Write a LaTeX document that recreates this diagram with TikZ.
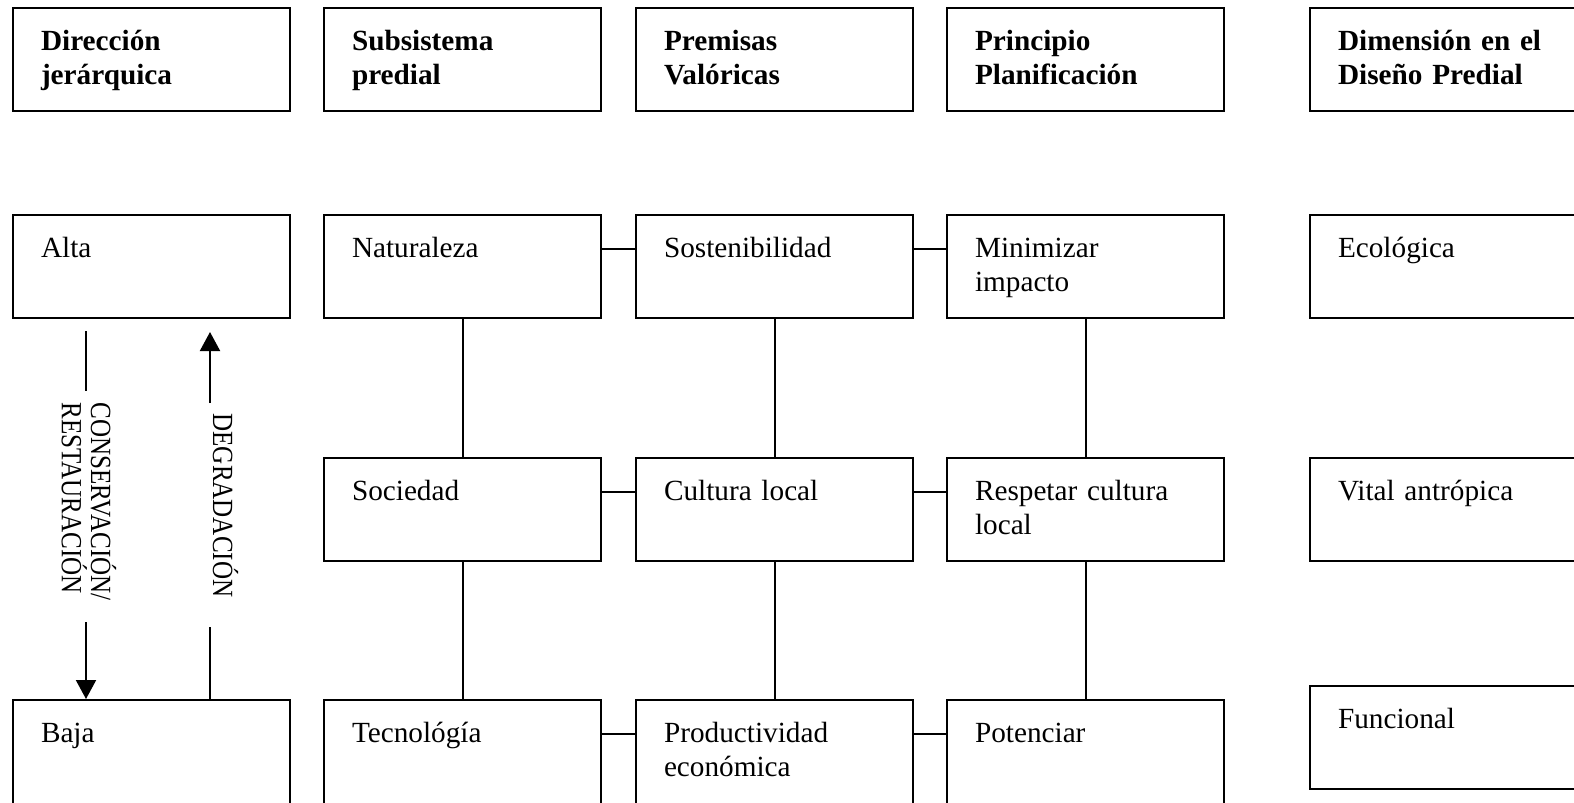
\documentclass[tikz,border=0pt]{standalone}
\usepackage{fontspec}
\setmainfont{Liberation Serif}
\newfontfamily\narrowserif[FakeStretch=0.857]{Liberation Serif}
\usepackage{tikz}
\usetikzlibrary{arrows.meta}
\usetikzlibrary{calc}

\begin{document}
\begin{tikzpicture}[x=0.4pt,y=-0.4pt,
  font=\fontsize{11.7}{13.6}\selectfont,
  caja/.style={draw,line width=0.8pt,anchor=north west,inner xsep=11.2pt,inner ysep=0pt,
    text width=88.4pt,align=left,text height=16.8pt,text depth=24.4pt},
  titulo/.style={caja,font=\fontsize{11.7}{13.6}\selectfont\bfseries},
  cortada/.style={caja,text depth=30pt},
  vertical/.style={rotate=-90,anchor=base west,inner sep=0pt,align=left,
    font=\narrowserif\fontsize{11.7}{11.6}\selectfont},
  enlace/.style={line width=0.8pt},
  flecha/.style={line width=0.8pt,-{Triangle[length=7.6pt,width=8pt]}}]
\useasboundingbox (0,0) rectangle (1574,802);
% encabezados
\node[titulo] (h1) at (12,7) {Dirección\\jerárquica};
\node[titulo] (h2) at (323,7) {Subsistema\\predial};
\node[titulo] (h3) at (635,7) {Premisas\\Valóricas};
\node[titulo] (h4) at (946,7) {Principio\\Planificación};
\node[titulo] (h5) at (1309,7) {Dimensión en el\\Diseño Predial};
% fila alta
\node[caja] (alta) at (12,214) {Alta};
\node[caja] (nat) at (323,214) {Naturaleza};
\node[caja] (sost) at (635,214) {Sostenibilidad};
\node[caja] (min) at (946,214) {Minimizar\\impacto};
\node[caja] (eco) at (1309,214) {Ecológica};
% fila media
\node[caja] (soc) at (323,457) {Sociedad};
\node[caja] (cult) at (635,457) {Cultura local};
\node[caja] (resp) at (946,457) {Respetar cultura\\local};
\node[caja] (vital) at (1309,457) {Vital antrópica};
% fila baja
\node[cortada] (baja) at (12,699) {Baja};
\node[cortada] (tec) at (323,699) {Tecnológía};
\node[cortada] (prod) at (635,699) {Productividad\\económica};
\node[cortada] (pot) at (946,699) {Potenciar};
\node[caja] (func) at (1309,685) {Funcional};

% uniones horizontales
\draw[enlace] ([yshift=-14pt]nat.north east) -- ([yshift=-14pt]sost.north west);
\draw[enlace] ([yshift=-14pt]sost.north east) -- ([yshift=-14pt]min.north west);
\draw[enlace] ([yshift=-14pt]soc.north east) -- ([yshift=-14pt]cult.north west);
\draw[enlace] ([yshift=-14pt]cult.north east) -- ([yshift=-14pt]resp.north west);
\draw[enlace] ([yshift=-14pt]tec.north east) -- ([yshift=-14pt]prod.north west);
\draw[enlace] ([yshift=-14pt]prod.north east) -- ([yshift=-14pt]pot.north west);
% uniones verticales
\draw[enlace] (nat.south) -- (soc.north);
\draw[enlace] (soc.south) -- (tec.north);
\draw[enlace] (sost.south) -- (cult.north);
\draw[enlace] (cult.south) -- (prod.north);
\draw[enlace] (min.south) -- (resp.north);
\draw[enlace] (resp.south) -- (pot.north);

% direccion jerarquica
\node[vertical] (cons) at (62,402) {CONSERVACIÓN/\\RESTAURACIÓN};
\node[vertical] (deg) at (213,413) {DEGRADACIÓN};
\coordinate (bajada) at (86,0);
\coordinate (subida) at (210,0);
\draw[enlace,shorten <=4.8pt,shorten >=4.4pt] (alta.south -| bajada) -- (cons.west -| bajada);
\draw[flecha,shorten <=8.4pt] (cons.east -| bajada) -- (baja.north -| bajada);
\draw[enlace,shorten >=11.6pt] (baja.north -| subida) -- (deg.east -| subida);
\draw[flecha,shorten <=4pt,shorten >=5.2pt] (deg.west -| subida) -- (alta.south -| subida);
\end{tikzpicture}
\end{document}
